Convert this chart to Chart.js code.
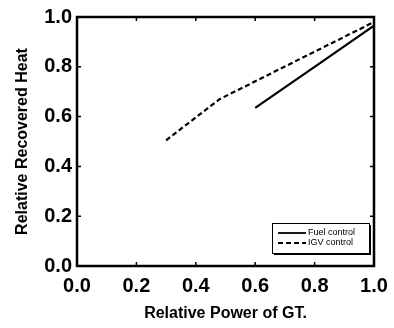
<!DOCTYPE html>
<html>
<head>
<meta charset="utf-8">
<script src="https://cdn.jsdelivr.net/npm/chart.js@4.4.0/dist/chart.umd.min.js"></script>
<style>
    html, body { margin: 0; padding: 0; background: #fff; }
    #wrap { width: 394px; height: 328px; }
</style>
</head>
<body>
<div id="wrap"><canvas id="heatChart" width="394" height="328"></canvas></div>
<script>
// courbes : chaleur récupérée relative vs puissance relative de la TG
const fuelX = [0.6, 0.8, 1.0];
const fuelY = [0.635, 0.80, 0.965];
const igvX = [0.3, 0.48, 1.0];
const igvY = [0.505, 0.67, 0.98];
const tickValues = [0.0, 0.2, 0.4, 0.6, 0.8, 1.0];
const seriesLabels = ['Fuel control', 'IGV control'];

function toPoints(xs, ys) {
    return xs.map((x, i) => ({x: x, y: ys[i]}));
}

// cadre + graduations vers l'intérieur sur les 4 côtés
const frameTicks = {
    id: 'frameTicks',
    afterDraw(chart) {
        const ctx = chart.ctx;
        const a = chart.chartArea;
        const len = 4;
        ctx.save();
        ctx.strokeStyle = '#000';
        ctx.lineWidth = 1.5;
        ctx.beginPath();
        for (const v of tickValues) {
            const px = chart.scales.x.getPixelForValue(v);
            ctx.moveTo(px, a.bottom); ctx.lineTo(px, a.bottom - len);
            ctx.moveTo(px, a.top); ctx.lineTo(px, a.top + len);
            const py = chart.scales.y.getPixelForValue(v);
            ctx.moveTo(a.left, py); ctx.lineTo(a.left + len, py);
            ctx.moveTo(a.right, py); ctx.lineTo(a.right - len, py);
        }
        ctx.stroke();
        ctx.lineWidth = 2.5;
        ctx.strokeRect(a.left, a.top, a.right - a.left, a.bottom - a.top);
        ctx.restore();
    }
};

// légende encadrée avec ombre, en bas à droite
const boxLegend = {
    id: 'boxLegend',
    afterDraw(chart) {
        const ctx = chart.ctx;
        const a = chart.chartArea;
        const w = 97, h = 30;
        const x0 = a.right - 102, y0 = a.bottom - 43;
        ctx.save();
        ctx.fillStyle = '#000';
        ctx.fillRect(x0 + 2, y0 + 2, w, h);
        ctx.fillStyle = '#fff';
        ctx.fillRect(x0, y0, w, h);
        ctx.strokeStyle = '#000';
        ctx.lineWidth = 1;
        ctx.strokeRect(x0 + 0.5, y0 + 0.5, w, h);
        ctx.font = '9px Arial, "Liberation Sans", sans-serif';
        ctx.textBaseline = 'middle';
        chart.data.datasets.forEach((ds, i) => {
            const y = y0 + 10 + i * 10;
            ctx.beginPath();
            ctx.lineWidth = 1.8;
            ctx.setLineDash(ds.borderDash || []);
            ctx.moveTo(x0 + 6, y);
            ctx.lineTo(x0 + 34, y);
            ctx.stroke();
            ctx.setLineDash([]);
            ctx.fillStyle = '#000';
            ctx.fillText(ds.label, x0 + 36, y);
        });
        ctx.restore();
    }
};

const tickFont = {family: 'Arial, "Liberation Sans", sans-serif', size: 20, weight: 'bold'};
const titleFont = {family: 'Arial, "Liberation Sans", sans-serif', size: 16, weight: 'bold'};

new Chart(document.getElementById('heatChart'), {
    type: 'scatter',
    data: {
        datasets: [{
            label: seriesLabels[0],
            data: toPoints(fuelX, fuelY),
            showLine: true,
            borderColor: '#000',
            borderWidth: 2.2,
            pointRadius: 0
        }, {
            label: seriesLabels[1],
            data: toPoints(igvX, igvY),
            showLine: true,
            borderColor: '#000',
            borderWidth: 2.2,
            borderDash: [5, 3],
            pointRadius: 0
        }]
    },
    options: {
        responsive: false,
        animation: false,
        layout: {padding: {top: 14, right: 20, left: 0, bottom: 0}},
        plugins: {legend: {display: false}, tooltip: {enabled: false}},
        scales: {
            x: {
                min: 0, max: 1,
                afterBuildTicks: s => { s.ticks = tickValues.map(v => ({value: v})); },
                afterFit: s => {
                    s.height = 62;
                    s.paddingRight = 0;
                    s.paddingLeft = 0;
                },
                ticks: {
                    color: '#000', font: tickFont, padding: 8,
                    maxRotation: 0, callback: v => v.toFixed(1)
                },
                grid: {drawOnChartArea: false, drawTicks: false},
                border: {color: '#000', width: 2},
                title: {display: true, text: 'Relative Power of GT.', color: '#000', font: titleFont, padding: {top: 0, bottom: 5}}
            },
            y: {
                min: 0, max: 1,
                afterBuildTicks: s => { s.ticks = tickValues.map(v => ({value: v})); },
                afterFit: s => { s.width = 77; },
                ticks: {
                    color: '#000', font: tickFont, padding: 5,
                    callback: v => v.toFixed(1)
                },
                grid: {drawOnChartArea: false, drawTicks: false},
                border: {color: '#000', width: 2},
                title: {display: true, text: 'Relative Recovered Heat', color: '#000', font: titleFont, padding: {top: 13, bottom: 0}}
            }
        }
    },
    plugins: [frameTicks, boxLegend]
});
</script>
</body>
</html>
